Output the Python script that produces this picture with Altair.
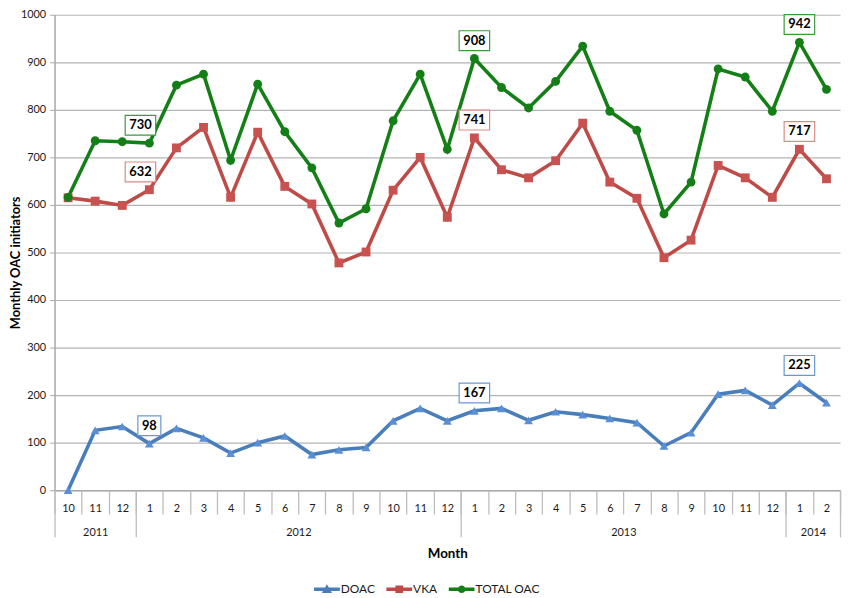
import json
import altair as alt
import pandas as pd

# ---------------- data ----------------
months = ["10", "11", "12",
          "1", "2", "3", "4", "5", "6", "7", "8", "9", "10", "11", "12",
          "1", "2", "3", "4", "5", "6", "7", "8", "9", "10", "11", "12",
          "1", "2"]
year_labels = ["2011", "2012", "2013", "2014"]
year_counts = [3, 12, 12, 2]

doac = [0, 126, 134, 98, 130, 110, 78, 100, 114, 75, 85, 90, 146, 172, 146,
        167, 172, 147, 165, 159, 151, 142, 93, 121, 202, 210, 179, 225, 184]
vka = [615, 608, 599, 632, 720, 763, 616, 753, 639, 602, 478, 501, 631, 700, 574,
       741, 674, 657, 693, 772, 648, 614, 489, 526, 683, 657, 616, 717, 655]
total = [616, 735, 733, 730, 852, 875, 694, 854, 754, 678, 562, 592, 777, 875, 717,
         908, 847, 804, 860, 934, 797, 757, 581, 648, 886, 869, 797, 942, 843]

series_names = ["DOAC", "VKA", "TOTAL OAC"]
labelled_idx = [3, 15, 27]

# ---------------- styling ----------------
line_colors = ["#4A7EBB", "#BE4B48", "#157F17"]
marker_colors = ["#5A8FD6", "#C8524F", "#157F17"]
box_colors = ["#6A97D3", "#D98B88", "#3E983E"]
FONT = "Lato"
N = len(months)
W, H = 793, 480
unit_px = W / N
nudge_px = {("TOTAL OAC", 3): -9, ("VKA", 3): -9}

# ---------------- tables ----------------
rows = []
for name, vals in zip(series_names, [doac, vka, total]):
    for i, v in enumerate(vals):
        rows.append({"series": name, "pos": i + 0.5, "value": v, "order": i})
df = pd.DataFrame(rows)

ann = []
for name, vals in zip(series_names, [doac, vka, total]):
    for i in labelled_idx:
        txt = str(vals[i])
        w = 8 + 7.6 * len(txt)
        ann.append({
            "series": name,
            "xl": i + 0.5 + nudge_px.get((name, i), 0) / unit_px,
            "value": vals[i],
            "label": txt,
            "box": f"M{-w/2:.1f},-28 h{w:.1f} v20 h{-w:.1f} Z",
        })
ann_df = pd.DataFrame(ann)

xscale = alt.Scale(domain=[0, N], nice=False, zero=False)
yscale = alt.Scale(domain=[0, 1000], nice=False)
cdom = series_names

y_axis = alt.Axis(
    values=list(range(0, 1001, 100)), format="d", grid=True, gridColor="#B4B4B4",
    gridWidth=1.2, tickSize=5, tickColor="#A8A8A8", domainColor="#A8A8A8",
    domainWidth=1.5, labelFontSize=11, labelColor="#1a1a1a", labelPadding=4,
    labelFont=FONT, title="Monthly OAC initiators", titleFontSize=13,
    titleFontWeight="bold", titleColor="#000", titleFont=FONT,
    titleX=-39, titleY=H / 2 + 10, titleBaseline="middle", titleAlign="center",
    orient="left")

def Y(field):
    return alt.Y(f"{field}:Q", scale=yscale, axis=y_axis)

# ---------------- main layers ----------------
month_axis = alt.Axis(
    orient="bottom",
    values=[i + 0.5 for i in range(N)],
    labelExpr=f"{json.dumps(months)}[floor(datum.value)]",
    ticks=False, tickSize=0, grid=False, domain=True, domainColor="#A8A8A8",
    domainWidth=1.5, labelPadding=13, labelFontSize=11, labelColor="#1a1a1a",
    labelFont=FONT, title=None, labelAngle=0,
)

lines = alt.Chart(df).mark_line(strokeWidth=3.6).encode(
    x=alt.X("pos:Q", scale=xscale, axis=month_axis),
    y=Y("value"),
    color=alt.Color("series:N", scale=alt.Scale(domain=cdom, range=line_colors), legend=None),
    order="order:Q",
    detail="series:N",
)

markers = alt.Chart(df).mark_point(filled=True, size=80, opacity=1).encode(
    x=alt.X("pos:Q", scale=xscale, axis=None),
    y=Y("value"),
    color=alt.Color("series:N", scale=alt.Scale(domain=cdom, range=marker_colors), legend=None),
    shape=alt.Shape("series:N", scale=alt.Scale(domain=cdom, range=["triangle-up", "square", "circle"]), legend=None),
)

boxes = alt.Chart(ann_df).mark_point(size=4, fill="white", filled=False, strokeWidth=1.2, opacity=1, fillOpacity=1).encode(
    x=alt.X("xl:Q", scale=xscale, axis=None),
    y=Y("value"),
    shape=alt.Shape("box:N", scale=None),
    stroke=alt.Color("series:N", scale=alt.Scale(domain=cdom, range=box_colors), legend=None),
)

texts = alt.Chart(ann_df).mark_text(dy=-18, fontSize=13, fontWeight="bold", color="#000", font=FONT,
                                     baseline="middle", align="center").encode(
    x=alt.X("xl:Q", scale=xscale, axis=None),
    y=Y("value"),
    text="label:N",
)

# ---------------- category axis decorations ----------------
tiny = pd.DataFrame({"x": [0.0]})

sep_axis = alt.Chart(tiny).mark_rule(opacity=0).encode(
    x=alt.X("x:Q", scale=xscale, axis=alt.Axis(
        orient="bottom",
        values=list(range(N + 1)), ticks=True, tickSize=24, tickColor="#BDBDBD",
        tickWidth=1.3, labels=False, domain=False, grid=False, title=None)),
)

year_bounds = [0]
for c in year_counts:
    year_bounds.append(year_bounds[-1] + c)
year_centers = [(a + b) / 2 for a, b in zip(year_bounds[:-1], year_bounds[1:])]

ysep_axis = alt.Chart(tiny).mark_rule(opacity=0).encode(
    x=alt.X("x:Q", scale=xscale, axis=alt.Axis(
        orient="bottom",
        values=year_bounds, ticks=True, tickSize=47, tickColor="#BDBDBD",
        tickWidth=1.3, labels=False, domain=False, grid=False, title=None)),
)

year_axis = alt.Chart(tiny).mark_rule(opacity=0).encode(
    x=alt.X("x:Q", scale=xscale, axis=alt.Axis(
        orient="bottom",
        values=year_centers,
        labelExpr=f"{json.dumps(year_labels)}[indexof({json.dumps(year_centers)}, datum.value)]",
        ticks=False, tickSize=0, labels=True, domain=False, grid=False,
        labelPadding=37, labelFontSize=11, labelColor="#1a1a1a", labelFont=FONT,
        labelAngle=0,
        title="Month", titleFontSize=13.5, titleFontWeight="bold", titleColor="#000",
        titleFont=FONT, titleY=64, titleBaseline="middle")),
)

# ---------------- legend layer ----------------
line_part = "M-1,-0.135 L1,-0.135 L1,0.135 L-1,0.135 Z "
leg_paths = [
    line_part + "M-0.4,0.3 L0,-0.38 L0.4,0.3 Z",
    line_part + "M-0.3,-0.3 L0.3,-0.3 L0.3,0.3 L-0.3,0.3 Z",
    line_part + "M-0.3,0 A0.3,0.3 0 1,1 0.3,0 A0.3,0.3 0 1,1 -0.3,0 Z",
]
leg_cfg = dict(orient="none", legendX=262, legendY=567, direction="horizontal",
               title=None, symbolOpacity=1, symbolSize=676, symbolStrokeWidth=0,
               labelFontSize=12, labelColor="#1a1a1a", labelFont=FONT,
               labelOffset=1, columnPadding=11, padding=0)
leg_df = pd.DataFrame({"series": series_names, "v": [0, 0, 0]})
legend_layer = alt.Chart(leg_df).mark_point(filled=True, size=676, opacity=0).encode(
    x=alt.X("v:Q", scale=xscale, axis=None),
    color=alt.Color("series:N", scale=alt.Scale(domain=cdom, range=line_colors),
                    legend=alt.Legend(**leg_cfg)),
    shape=alt.Shape("series:N", scale=alt.Scale(domain=cdom, range=leg_paths),
                    legend=alt.Legend(**leg_cfg)),
)

chart = alt.layer(
    lines, markers, boxes, texts, sep_axis, ysep_axis, year_axis, legend_layer
).resolve_axis(x="independent").resolve_scale(
    color="independent", shape="independent", stroke="independent"
).properties(
    width=W, height=H,
    autosize=alt.AutoSizeParams(type="none"),
    padding={"left": 47, "top": 4, "right": 3, "bottom": 106},
).configure(font=FONT).configure_view(stroke=None)

chart.save("out.html", embed_options={"renderer": "svg", "actions": False})
